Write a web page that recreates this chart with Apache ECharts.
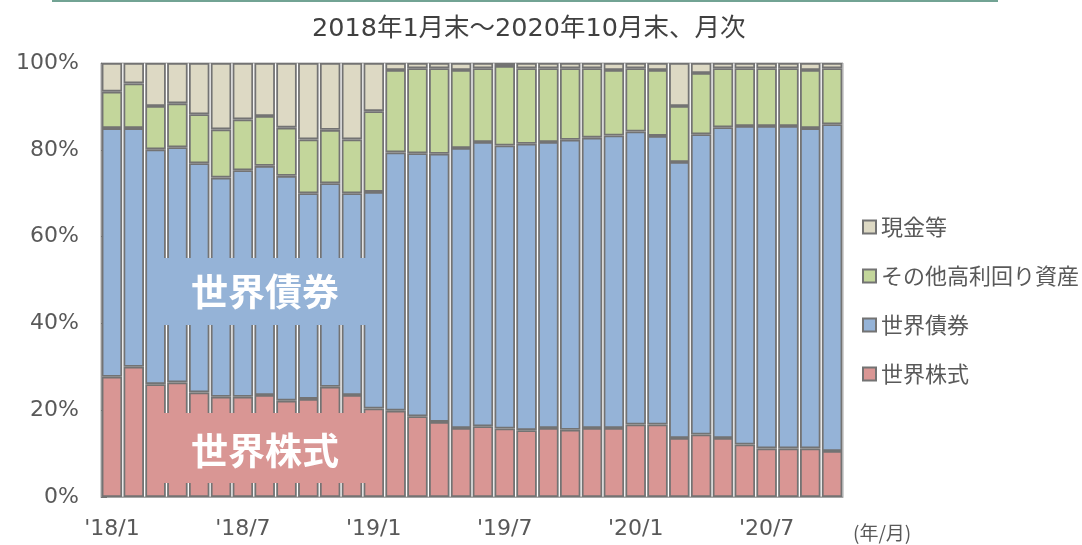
<!DOCTYPE html>
<html>
<head>
<meta charset="utf-8">
<script src="https://cdn.jsdelivr.net/npm/echarts@6/dist/echarts.min.js"></script>
<style>
  html, body { margin: 0; padding: 0; background: #fff; }
  #main { width: 1082px; height: 545px; }
</style>
</head>
<body>
<div id="main"></div>
<script>
/* 月次カテゴリ（2018年1月末～2020年10月末） */
var months = ["'18/1","'18/2","'18/3","'18/4","'18/5","'18/6","'18/7","'18/8","'18/9","'18/10","'18/11","'18/12",
              "'19/1","'19/2","'19/3","'19/4","'19/5","'19/6","'19/7","'19/8","'19/9","'19/10","'19/11","'19/12",
              "'20/1","'20/2","'20/3","'20/4","'20/5","'20/6","'20/7","'20/8","'20/9","'20/10"];

/* 資産配分（%） */
var stockData = [27.7,30.0,26.0,26.4,24.1,23.1,23.1,23.5,22.2,22.6,25.4,23.5,
                 20.4,19.9,18.6,17.3,15.9,16.3,15.8,15.4,15.9,15.5,15.9,15.9,
                 16.7,16.7,13.6,14.4,13.6,12.1,11.2,11.2,11.2,10.6];
var bondData  = [57.3,55.0,54.1,54.2,52.8,50.5,52.2,52.8,51.8,47.4,46.9,46.5,
                 49.9,59.5,60.6,61.8,64.5,65.5,65.2,66.0,65.9,66.8,66.9,67.4,
                 67.5,66.5,63.6,69.2,71.6,73.4,74.3,74.3,73.8,75.3];
var otherData = [8.4,10.3,10.0,10.1,11.3,11.1,11.7,11.5,11.1,12.4,12.3,12.4,
                 18.6,19.0,19.6,19.7,18.0,17.0,18.3,17.4,17.0,16.5,16.0,15.1,
                 14.6,15.2,12.9,14.1,13.6,13.3,13.3,13.3,13.4,12.9];
var cashData  = [6.6,4.7,9.9,9.3,11.8,15.3,13.0,12.2,14.9,17.6,15.4,17.6,
                 11.1,1.6,1.2,1.2,1.6,1.2,0.7,1.2,1.2,1.2,1.2,1.6,
                 1.2,1.6,9.9,2.3,1.2,1.2,1.2,1.2,1.6,1.2];

var seriesNames = ['世界株式','世界債券','その他高利回り資産','現金等'];
var colorArr = ['#d99694','#95b3d7','#c3d69b','#ddd9c4'];
var yTicks = [0,20,40,60,80,100];

var FONT = 'DejaVu Sans, "Noto Sans CJK JP", sans-serif';
var CJK = '"Noto Sans CJK JP", sans-serif';

var valueArray = [stockData, bondData, otherData, cashData];
var ySeries = [];
for (var i = 0; i < seriesNames.length; i++) {
    ySeries.push({
        name: seriesNames[i],
        type: 'bar',
        stack: 'total',
        barCategoryGap: '6%',
        itemStyle: { color: colorArr[i], borderColor: '#737373', borderWidth: 1.8 },
        data: valueArray[i]
    });
}

var myChart = echarts.init(document.getElementById('main'));
var option = {
    animation: false,
    title: {
        text: '2018年1月末～2020年10月末、月次',
        left: 307,
        top: 12,
        textStyle: { fontFamily: FONT, fontSize: 25.5, fontWeight: 'normal', color: '#404040' }
    },
    legend: {
        orient: 'vertical',
        left: 857,
        top: 211,
        itemGap: 27,
        itemWidth: 13,
        itemHeight: 13,
        icon: 'rect',
        data: seriesNames.slice().reverse(),
        textStyle: { fontFamily: CJK, fontSize: 22, color: '#595959' }
    },
    grid: { left: 101, right: 239, top: 63, bottom: 48, show: true, borderColor: '#a6a6a6', borderWidth: 1 },
    xAxis: {
        type: 'category',
        data: months,
        name: '(年/月)',
        nameLocation: 'end',
        nameGap: 10,
        nameTextStyle: { fontFamily: CJK, fontSize: 19, color: '#595959', verticalAlign: 'top', padding: [26, 0, 0, 0] },
        axisLine: { lineStyle: { color: '#a6a6a6', width: 1 } },
        axisTick: { show: false },
        axisLabel: { interval: 5, margin: 21, fontFamily: FONT, fontSize: 22, color: '#595959' }
    },
    yAxis: {
        type: 'value',
        min: yTicks[0],
        max: yTicks[yTicks.length - 1],
        interval: 20,
        axisLine: { show: true, lineStyle: { color: '#a6a6a6' } },
        axisTick: { show: true, inside: true, length: 6, lineStyle: { color: '#737373' } },
        splitLine: { show: false },
        axisLabel: { margin: 22, fontFamily: FONT, fontSize: 22, color: '#595959', formatter: '{value}%' }
    },
    series: ySeries,
    graphic: [
        { type: 'rect', left: 52, top: 0, shape: { width: 946, height: 2 }, style: { fill: '#72a394' } },
        { type: 'rect', left: 148, top: 258, shape: { width: 234, height: 67 }, style: { fill: '#95b3d7' }, z: 10 },
        { type: 'text', style: { text: '世界債券', fill: '#fff', font: 'bold 37px "Noto Sans CJK JP"', x: 265, y: 291.5, align: 'center', verticalAlign: 'middle' }, z: 11 },
        { type: 'rect', left: 148, top: 413, shape: { width: 234, height: 70 }, style: { fill: '#d99694' }, z: 10 },
        { type: 'text', style: { text: '世界株式', fill: '#fff', font: 'bold 37px "Noto Sans CJK JP"', x: 265, y: 451, align: 'center', verticalAlign: 'middle' }, z: 11 }
    ]
};
myChart.setOption(option);
</script>
</body>
</html>
